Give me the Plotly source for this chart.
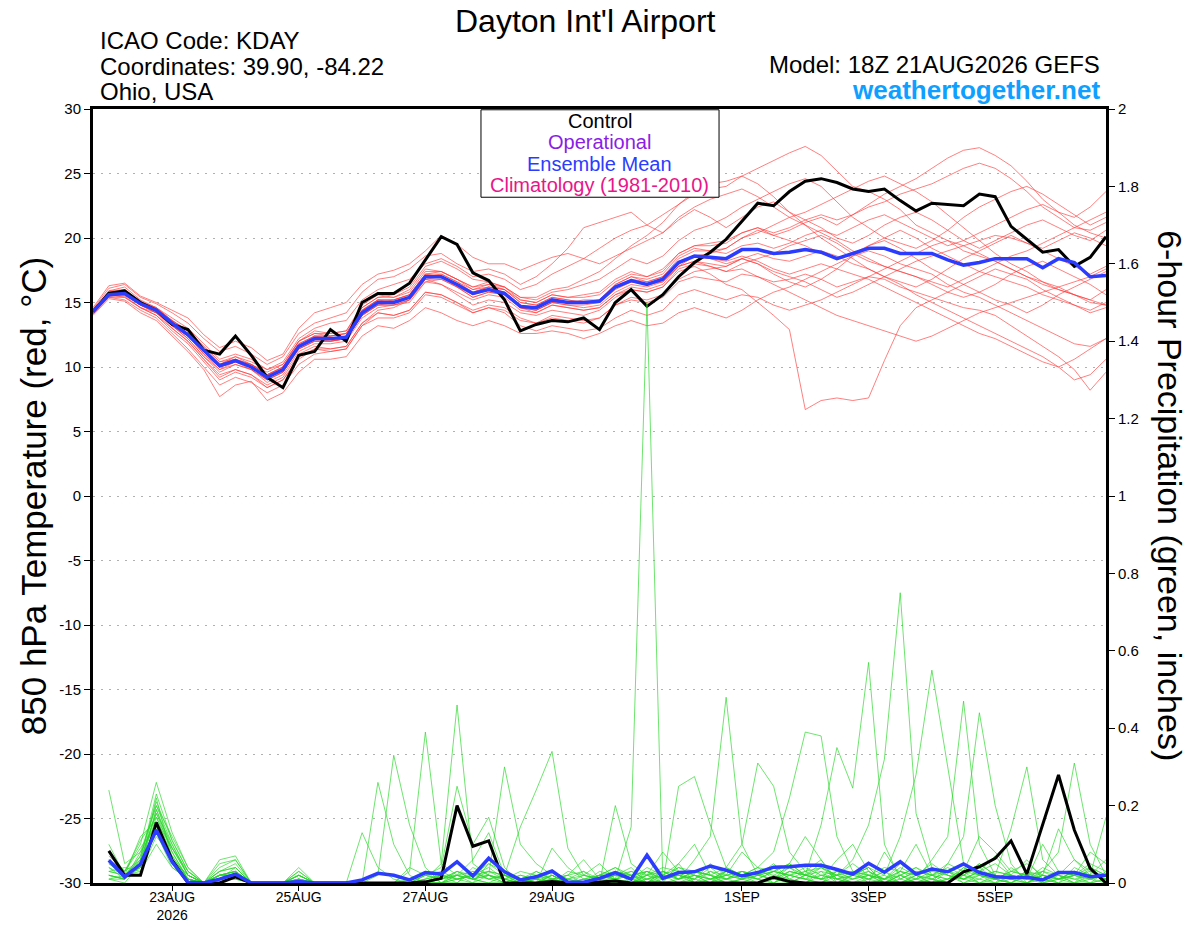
import pandas as pd
import plotly.graph_objects as go

# GEFS 18Z 21AUG2026, 6-hourly steps out to 384h
times = pd.date_range("2026-08-21 18:00", periods=65, freq="6h")

tick_dates = ["2026-08-23", "2026-08-25", "2026-08-27", "2026-08-29",
              "2026-09-01", "2026-09-03", "2026-09-05"]
tick_text = ["23AUG<br>2026", "25AUG", "27AUG", "29AUG", "1SEP", "3SEP", "5SEP"]
# left axis labels use a plain hyphen like the original
temp_ticks = [-30, -25, -20, -15, -10, -5, 0, 5, 10, 15, 20, 25, 30]
temp_tick_text = ["-30", "-25", "-20", "-15", "-10", "-5", "0", "5", "10", "15", "20", "25", "30"]

# 850 hPa temperature (C)
control_t = [14.3, 15.7, 15.9, 15.0, 14.4, 13.3, 12.9, 11.3, 11.0, 12.4, 10.9, 9.2, 8.4,
             10.9, 11.2, 12.9, 12.0, 15.0, 15.7, 15.7, 16.5, 18.3, 20.1, 19.5, 17.3, 16.7,
             15.2, 12.8, 13.3, 13.6, 13.5, 13.8, 12.9, 15.0, 16.0, 14.7, 15.6, 17.0, 18.1,
             18.9, 19.9, 21.3, 22.7, 22.5, 23.6, 24.4, 24.6, 24.3, 23.8, 23.6, 23.8, 22.9,
             22.1, 22.7, 22.6, 22.5, 23.4, 23.2, 20.9, 19.9, 18.9, 19.1, 17.8, 18.5, 20.1]
mean_t = [14.3, 15.6, 15.7, 14.9, 14.4, 13.4, 12.5, 11.3, 10.1, 10.5, 10.0, 9.2, 9.8,
          11.6, 12.2, 12.2, 12.3, 14.2, 15.0, 15.0, 15.4, 17.0, 17.0, 16.4, 15.7, 16.0,
          15.7, 14.7, 14.6, 15.2, 15.0, 15.0, 15.1, 16.2, 16.7, 16.4, 16.8, 18.1, 18.6,
          18.5, 18.4, 19.1, 19.1, 18.8, 18.9, 19.1, 18.9, 18.4, 18.8, 19.2, 19.2, 18.8,
          18.8, 18.8, 18.3, 17.9, 18.1, 18.4, 18.4, 18.4, 17.7, 18.4, 18.1, 17.0, 17.1]

members_t = [
    [14.2, 15.9, 16.2, 15.2, 14.6, 13.8, 13.0, 11.8, 10.6, 11.0, 10.6, 9.8, 10.4, 12.2, 13.0, 13.4, 13.6, 15.2, 16.0, 16.4, 16.8, 18.0, 18.4, 17.8, 17.0, 17.2, 16.8, 16.0, 16.4, 17.2, 17.8, 18.4, 19.2, 20.0, 20.6, 21.0, 21.8, 22.6, 23.4, 23.8, 24.0, 24.8, 25.4, 26.0, 26.6, 27.1, 26.4, 25.2, 24.0, 23.6, 23.0, 22.2, 21.0, 20.4, 19.8, 19.0, 18.6, 18.2, 17.6, 17.0, 16.6, 16.0, 15.6, 15.0, 14.8],
    [14.4, 15.6, 15.4, 14.6, 14.0, 13.0, 12.0, 10.6, 9.2, 9.8, 9.4, 8.6, 9.2, 11.0, 11.6, 11.4, 11.6, 13.4, 14.4, 14.6, 15.2, 16.8, 16.4, 15.6, 14.8, 15.2, 15.0, 14.2, 14.0, 14.4, 14.2, 14.0, 14.4, 15.4, 16.0, 15.8, 16.2, 17.4, 17.8, 17.2, 16.4, 16.0, 15.0, 14.0, 12.9, 6.7, 7.4, 7.6, 7.4, 7.6, 10.5, 13.2, 14.6, 15.2, 15.8, 16.4, 17.0, 17.6, 17.2, 16.8, 16.0, 15.4, 14.8, 14.2, 14.6],
    [14.3, 15.8, 16.0, 15.0, 14.5, 13.6, 12.8, 11.6, 10.4, 10.8, 10.2, 9.4, 10.0, 12.0, 12.8, 12.6, 12.8, 14.8, 15.6, 15.4, 16.0, 17.6, 17.4, 16.8, 16.2, 16.6, 16.2, 15.2, 15.0, 15.6, 15.4, 15.6, 15.8, 16.8, 17.4, 17.0, 17.6, 18.8, 19.4, 19.6, 19.8, 20.4, 20.8, 20.2, 20.6, 21.2, 21.6, 21.0, 21.8, 22.6, 23.4, 24.0, 24.6, 25.4, 26.2, 26.8, 27.0, 26.4, 25.6, 24.4, 23.0, 22.0, 21.0, 20.4, 20.0],
    [14.1, 15.4, 15.2, 14.4, 13.8, 12.6, 11.4, 10.0, 8.6, 9.2, 8.8, 8.0, 8.6, 10.2, 11.0, 11.2, 11.4, 13.2, 14.2, 14.0, 14.4, 15.8, 15.6, 15.0, 14.4, 14.8, 14.6, 13.8, 13.4, 13.8, 13.6, 13.4, 13.8, 14.8, 15.2, 15.0, 15.4, 16.6, 17.0, 16.8, 16.6, 17.2, 17.0, 16.6, 16.8, 17.2, 16.8, 16.2, 16.6, 17.0, 16.8, 16.2, 15.8, 15.4, 15.0, 14.6, 14.4, 14.0, 13.2, 12.4, 11.6, 10.8, 9.8, 8.2, 9.6],
    [14.5, 16.1, 16.4, 15.4, 14.9, 14.2, 13.4, 12.2, 11.2, 11.6, 11.0, 10.2, 10.8, 12.6, 13.4, 13.8, 14.2, 15.8, 16.8, 17.0, 17.6, 18.6, 18.8, 18.0, 17.4, 17.6, 17.2, 16.4, 17.0, 18.0, 19.2, 20.8, 21.2, 21.6, 22.0, 21.0, 20.4, 21.4, 22.2, 21.6, 20.8, 21.6, 22.4, 22.8, 22.0, 21.4, 20.8, 20.0, 19.6, 20.2, 21.0, 21.6, 22.0, 21.4, 20.6, 19.8, 19.2, 19.8, 20.4, 21.0, 21.4, 20.8, 20.2, 19.8, 20.6],
    [14.2, 15.7, 15.8, 14.9, 14.3, 13.2, 12.2, 10.8, 9.6, 10.2, 9.8, 8.8, 9.4, 11.2, 11.8, 11.8, 12.0, 13.8, 14.6, 14.8, 15.0, 16.6, 16.8, 16.2, 15.6, 16.0, 15.8, 14.6, 14.2, 14.8, 14.6, 14.4, 14.6, 15.6, 16.2, 16.0, 16.4, 17.8, 18.6, 18.8, 19.2, 20.0, 20.4, 21.0, 21.6, 22.0, 22.6, 23.2, 23.8, 24.4, 24.8, 24.2, 23.6, 22.8, 21.8, 20.8, 19.8, 18.8, 18.0, 17.4, 16.6, 16.2, 15.6, 15.2, 14.8],
    [14.0, 15.3, 15.1, 14.2, 13.6, 12.4, 11.2, 9.8, 7.7, 8.6, 8.9, 7.4, 8.0, 9.6, 10.6, 10.6, 10.8, 12.4, 13.2, 13.0, 13.6, 14.6, 14.2, 13.6, 13.2, 13.6, 13.2, 12.6, 12.6, 12.8, 12.6, 12.2, 12.6, 13.2, 13.6, 13.2, 13.4, 14.2, 14.6, 14.2, 13.8, 14.4, 15.2, 15.8, 16.2, 16.8, 17.4, 18.0, 18.6, 19.0, 18.6, 18.0, 17.6, 17.2, 16.4, 15.8, 15.4, 14.8, 14.2, 13.6, 13.0, 12.4, 11.8, 11.6, 12.2],
    [14.4, 15.9, 16.0, 15.1, 14.6, 13.6, 12.8, 11.6, 10.4, 10.6, 10.2, 9.6, 10.2, 12.0, 12.6, 12.4, 12.6, 14.6, 15.4, 15.6, 16.2, 17.8, 18.2, 17.6, 16.8, 16.6, 16.2, 15.4, 15.2, 15.8, 16.0, 16.4, 16.8, 17.6, 18.4, 18.0, 18.6, 19.8, 20.6, 21.0, 21.6, 22.4, 23.0, 23.6, 24.2, 24.6, 24.0, 22.8, 21.6, 20.8, 20.0, 19.6, 19.2, 19.8, 20.6, 21.6, 22.4, 23.0, 23.6, 24.0, 23.4, 22.6, 21.8, 21.0, 21.6],
    [14.3, 15.5, 15.6, 14.8, 14.2, 13.2, 12.4, 11.0, 10.0, 10.4, 9.8, 9.0, 9.6, 11.6, 12.2, 12.0, 12.2, 14.0, 14.8, 15.0, 15.4, 16.8, 17.0, 16.4, 15.6, 16.0, 15.6, 14.6, 14.4, 15.0, 15.0, 15.2, 15.2, 16.2, 16.8, 16.6, 17.0, 18.2, 18.6, 18.4, 18.0, 18.4, 18.0, 17.4, 17.0, 16.6, 16.0, 15.4, 15.8, 16.4, 17.0, 17.6, 18.2, 18.6, 19.0, 19.4, 19.8, 20.2, 20.0, 19.6, 19.2, 19.8, 20.4, 20.0, 19.4],
    [14.6, 16.3, 16.5, 15.5, 15.0, 14.4, 13.8, 12.5, 11.5, 12.0, 11.5, 10.5, 11.0, 13.0, 14.2, 14.6, 15.0, 16.4, 17.2, 17.5, 18.0, 19.0, 20.2, 19.5, 18.5, 18.0, 18.0, 17.5, 18.0, 18.5, 18.8, 18.4, 18.0, 18.6, 19.2, 19.8, 20.4, 21.6, 22.4, 23.0, 23.4, 23.8, 23.2, 22.4, 21.6, 21.0, 20.4, 19.8, 19.0, 18.4, 17.8, 17.4, 17.0, 16.6, 16.2, 16.8, 17.4, 18.0, 18.6, 19.0, 19.6, 20.2, 20.8, 21.4, 22.0],
    [14.2, 15.6, 15.9, 15.0, 14.4, 13.4, 12.6, 11.4, 10.2, 10.6, 10.0, 9.2, 9.8, 11.6, 12.4, 12.2, 12.4, 14.4, 15.2, 15.2, 15.6, 17.2, 17.2, 16.6, 16.0, 16.2, 16.0, 15.0, 14.8, 15.4, 15.2, 15.0, 15.2, 16.4, 17.0, 16.6, 17.0, 18.4, 19.0, 19.0, 19.2, 20.0, 20.6, 20.2, 19.8, 19.4, 18.8, 18.4, 18.8, 19.4, 19.8, 19.2, 18.4, 17.6, 17.0, 16.4, 15.8, 15.2, 14.8, 14.2, 14.8, 15.6, 16.2, 16.8, 17.4],
    [14.3, 15.4, 15.4, 14.6, 14.2, 13.0, 12.0, 10.6, 9.4, 9.8, 9.4, 8.4, 9.0, 10.8, 11.4, 11.2, 11.4, 13.2, 13.8, 13.8, 14.2, 15.6, 15.4, 14.8, 14.2, 14.6, 14.4, 13.6, 13.4, 14.0, 13.8, 13.6, 13.8, 14.8, 15.4, 15.2, 15.6, 16.8, 17.4, 17.6, 17.8, 18.4, 18.8, 18.4, 18.2, 18.6, 19.0, 18.6, 18.0, 17.6, 17.0, 16.4, 15.6, 15.0, 14.4, 13.8, 13.2, 12.6, 12.0, 11.4, 10.8, 10.0, 9.0, 9.4, 10.6],
    [14.4, 15.8, 15.8, 14.9, 14.4, 13.4, 12.6, 11.2, 10.0, 10.4, 10.0, 9.4, 10.0, 11.8, 12.4, 12.4, 12.6, 14.4, 15.2, 15.0, 15.4, 17.0, 17.0, 16.4, 15.8, 16.2, 16.0, 15.2, 15.0, 15.6, 15.4, 15.4, 15.6, 16.6, 17.2, 17.0, 17.4, 18.8, 19.4, 19.4, 19.6, 20.4, 20.8, 20.4, 20.8, 21.4, 21.8, 21.4, 21.8, 22.4, 22.8, 23.4, 23.8, 24.2, 24.8, 25.4, 25.8, 25.4, 24.6, 23.6, 22.4, 21.6, 20.8, 20.6, 21.2],
    [14.1, 15.5, 15.5, 14.6, 14.0, 12.8, 11.8, 10.4, 9.0, 9.6, 9.2, 8.4, 9.0, 10.6, 11.4, 11.4, 11.6, 13.4, 14.2, 14.0, 14.4, 15.8, 15.6, 15.0, 14.2, 14.6, 14.2, 13.2, 12.8, 13.2, 13.0, 12.8, 13.0, 13.8, 14.4, 14.0, 14.4, 15.6, 16.0, 15.6, 15.2, 15.6, 15.4, 14.8, 14.4, 14.8, 15.2, 15.8, 16.4, 17.0, 17.6, 18.2, 18.8, 19.4, 19.8, 19.4, 18.8, 18.2, 17.6, 17.0, 16.4, 16.0, 15.6, 15.2, 16.0],
    [14.3, 15.7, 15.9, 15.0, 14.6, 13.6, 12.8, 11.4, 10.2, 10.8, 10.4, 9.8, 10.2, 12.0, 12.6, 12.6, 12.8, 14.6, 15.4, 15.4, 15.8, 17.4, 17.4, 16.8, 16.2, 16.4, 16.2, 15.4, 15.4, 16.0, 16.2, 16.8, 17.4, 18.4, 19.4, 20.2, 21.2, 22.6, 23.6, 24.2, 24.4, 24.8, 24.2, 23.2, 22.0, 21.0, 20.0, 19.2, 18.4, 17.6, 17.0, 16.6, 16.2, 16.8, 17.6, 18.4, 19.0, 19.6, 20.2, 19.6, 19.0, 18.4, 17.8, 17.2, 17.8],
    [14.2, 15.6, 15.6, 14.8, 14.2, 13.2, 12.4, 11.0, 9.8, 10.2, 9.8, 9.0, 9.6, 11.4, 12.0, 12.0, 12.2, 14.0, 14.8, 14.8, 15.2, 16.6, 16.4, 15.8, 15.2, 15.6, 15.4, 14.4, 14.2, 14.8, 14.6, 14.4, 14.6, 15.6, 16.0, 15.8, 16.2, 17.6, 18.0, 17.8, 17.4, 18.0, 18.4, 18.8, 19.4, 19.8, 20.2, 19.6, 18.8, 18.2, 17.8, 17.4, 17.0, 16.4, 15.8, 15.4, 15.8, 16.4, 17.2, 17.8, 18.2, 17.6, 17.0, 16.4, 15.6],
    [14.4, 15.7, 15.6, 14.8, 14.4, 13.4, 12.4, 11.2, 10.0, 10.4, 10.0, 9.2, 9.8, 11.6, 12.2, 12.2, 12.4, 14.2, 15.0, 15.0, 15.4, 17.0, 17.2, 16.6, 15.8, 16.2, 15.8, 14.8, 14.6, 15.2, 15.0, 15.0, 15.2, 16.2, 16.6, 16.4, 16.6, 17.8, 18.2, 17.8, 17.4, 17.6, 17.0, 16.4, 15.8, 15.2, 14.6, 14.0, 13.6, 13.2, 12.8, 12.4, 12.0, 12.4, 13.0, 13.6, 14.2, 14.6, 15.0, 15.4, 15.8, 16.2, 16.6, 17.0, 17.6],
    [14.3, 15.8, 15.9, 15.0, 14.4, 13.4, 12.6, 11.4, 10.2, 10.6, 10.2, 9.4, 10.0, 11.8, 12.4, 12.4, 12.6, 14.4, 15.2, 15.2, 15.6, 17.2, 17.4, 16.8, 16.0, 16.4, 16.0, 15.0, 14.8, 15.4, 15.2, 15.0, 15.2, 16.4, 17.0, 16.8, 17.2, 18.6, 19.2, 19.0, 18.8, 19.4, 19.6, 19.2, 19.6, 20.2, 20.6, 20.2, 20.8, 21.4, 21.8, 21.2, 20.6, 20.0, 19.4, 19.8, 20.4, 21.0, 21.6, 22.2, 22.6, 22.0, 21.6, 22.4, 23.6],
    [14.2, 15.5, 15.7, 14.8, 14.2, 13.2, 12.2, 10.8, 9.8, 10.4, 10.2, 9.4, 9.8, 11.4, 12.0, 12.0, 12.2, 14.0, 15.0, 15.2, 15.6, 17.2, 17.0, 16.2, 15.4, 15.8, 15.6, 14.6, 14.4, 15.0, 14.8, 14.6, 14.8, 15.8, 16.4, 16.2, 16.6, 17.8, 18.2, 18.0, 17.8, 18.4, 18.0, 17.2, 16.6, 16.2, 16.8, 17.6, 18.6, 19.4, 20.0, 20.6, 20.0, 19.2, 18.6, 18.0, 17.4, 17.0, 16.6, 16.2, 15.6, 15.2, 14.8, 14.4, 15.0],
    [14.4, 15.8, 15.8, 15.0, 14.5, 13.4, 12.4, 11.2, 10.0, 10.4, 10.0, 9.0, 9.6, 11.4, 12.0, 12.0, 12.2, 14.0, 14.8, 14.8, 15.2, 16.8, 16.8, 16.2, 15.4, 15.8, 15.6, 14.6, 14.4, 15.0, 14.8, 14.8, 15.0, 16.0, 16.6, 16.4, 16.8, 18.0, 18.6, 18.4, 18.2, 18.6, 18.2, 17.6, 17.2, 17.6, 18.0, 17.6, 17.2, 16.8, 16.2, 15.6, 15.0, 14.4, 13.8, 13.2, 12.6, 12.2, 11.6, 11.0, 10.4, 10.0, 10.6, 11.4, 12.2],
]

# 6-hour precipitation (inches), first value is the 0-6h total
control_p = [0.083, 0.02, 0.02, 0.156, 0.059, 0, 0, 0, 0.016, 0, 0, 0, 0, 0, 0, 0,
             0, 0, 0, 0, 0.003, 0.012, 0.20, 0.095, 0.109, 0, 0, 0, 0.004, 0, 0, 0.002,
             0.005, 0, 0, 0, 0, 0, 0, 0, 0, 0, 0.015, 0.004, 0, 0, 0, 0,
             0, 0, 0, 0, 0, 0, 0.029, 0.042, 0.064, 0.109, 0.023, 0.15, 0.279, 0.137, 0.038, 0]
mean_p = [0.059, 0.016, 0.049, 0.137, 0.055, 0.002, 0, 0.01, 0.023, 0, 0, 0, 0.004, 0, 0, 0,
          0.008, 0.025, 0.02, 0.008, 0.027, 0.023, 0.055, 0.018, 0.064, 0.029, 0.008, 0.016, 0.031, 0.002, 0.002, 0.012,
          0.027, 0.01, 0.072, 0.012, 0.027, 0.029, 0.044, 0.033, 0.018, 0.027, 0.041, 0.042, 0.046, 0.046, 0.035, 0.023,
          0.051, 0.028, 0.055, 0.023, 0.036, 0.029, 0.049, 0.027, 0.016, 0.014, 0.015, 0.008, 0.027, 0.027, 0.016, 0.02]

members_p = [
    [0.24, 0.05, 0.08, 0.20, 0.10, 0.02, 0, 0.03, 0.05, 0, 0, 0, 0.01, 0, 0, 0, 0.13, 0.04, 0.01, 0, 0, 0, 0.02, 0.01, 0, 0, 0, 0, 0.01, 0.02, 0.06, 0.01, 0, 0, 0.03, 0, 0, 0.02, 0.01, 0, 0, 0, 0.01, 0.05, 0.12, 0.06, 0, 0.02, 0.04, 0, 0, 0.01, 0.06, 0.12, 0.47, 0.10, 0.02, 0, 0.03, 0.01, 0, 0.04, 0.02, 0.01],
    [0.06, 0.03, 0.10, 0.26, 0.13, 0.04, 0, 0.06, 0.07, 0, 0, 0, 0.03, 0, 0, 0, 0, 0.26, 0.10, 0.02, 0, 0, 0, 0.04, 0.02, 0, 0, 0, 0.02, 0, 0, 0, 0.01, 0, 0.02, 0.08, 0.03, 0, 0, 0.04, 0.02, 0, 0, 0.03, 0.02, 0.01, 0.06, 0.1, 0.03, 0, 0.02, 0, 0, 0.05, 0.12, 0.44, 0.2, 0.05, 0, 0.02, 0, 0, 0.01, 0],
    [0.02, 0.01, 0.06, 0.18, 0.08, 0.01, 0, 0.01, 0.04, 0, 0, 0, 0, 0, 0, 0, 0, 0.02, 0.33, 0.15, 0.04, 0, 0, 0, 0.05, 0.02, 0, 0, 0, 0.01, 0.03, 0, 0, 0, 0.01, 0, 0.05, 0.10, 0.02, 0, 0.01, 0.03, 0, 0, 0.02, 0.05, 0.01, 0, 0, 0.08, 0.02, 0, 0.01, 0, 0.02, 0.05, 0.02, 0.14, 0.30, 0.06, 0.02, 0, 0, 0.03],
    [0.10, 0.02, 0.04, 0.22, 0.06, 0.02, 0, 0.02, 0.03, 0, 0, 0, 0.02, 0, 0, 0, 0, 0, 0, 0.03, 0.39, 0.05, 0.02, 0, 0, 0, 0, 0.03, 0.01, 0, 0, 0.02, 0.04, 0.01, 0, 0.02, 0.05, 0, 0.01, 0.02, 0.08, 0.04, 0.01, 0, 0.02, 0.03, 0, 0.01, 0.02, 0, 0.03, 0.1, 0.02, 0, 0.04, 0.02, 0.01, 0, 0, 0.03, 0.08, 0.31, 0.1, 0.02],
    [0.01, 0, 0.05, 0.14, 0.05, 0, 0, 0.04, 0.06, 0, 0, 0, 0.04, 0, 0, 0, 0, 0, 0, 0, 0.01, 0.05, 0.46, 0.05, 0.02, 0, 0, 0.01, 0, 0, 0, 0, 0, 0.01, 0.03, 0.02, 0, 0.01, 0.04, 0.01, 0, 0.02, 0.05, 0.01, 0, 0.02, 0.01, 0.03, 0, 0.01, 0.05, 0.02, 0, 0.01, 0.03, 0, 0, 0.04, 0.01, 0, 0.02, 0.06, 0.02, 0.17],
    [0.04, 0.02, 0.12, 0.16, 0.09, 0.03, 0, 0.02, 0.02, 0, 0, 0, 0, 0, 0, 0, 0, 0, 0, 0.04, 0.02, 0.04, 0.25, 0.10, 0.17, 0.04, 0, 0, 0.02, 0, 0, 0.01, 0.02, 0.01, 0, 0.03, 0.01, 0.02, 0, 0.03, 0.01, 0, 0.02, 0.04, 0.01, 0, 0.03, 0.02, 0.01, 0.03, 0, 0.02, 0.05, 0.02, 0, 0.01, 0.03, 0.02, 0.06, 0.01, 0.02, 0, 0.04, 0.02],
    [0.03, 0.04, 0.03, 0.12, 0.07, 0.01, 0, 0.01, 0.02, 0, 0, 0, 0.01, 0, 0, 0, 0, 0, 0, 0, 0, 0.03, 0.05, 0.02, 0.02, 0.30, 0.10, 0.05, 0.02, 0, 0, 0.02, 0.04, 0.02, 0, 0.01, 0.02, 0, 0.03, 0.01, 0.02, 0.01, 0, 0.02, 0.03, 0.06, 0.01, 0.02, 0.04, 0, 0.01, 0.03, 0.02, 0.04, 0.02, 0.01, 0, 0.02, 0.01, 0.04, 0.02, 0.01, 0, 0.01],
    [0.02, 0.01, 0.07, 0.21, 0.11, 0.03, 0, 0.02, 0.03, 0, 0, 0, 0, 0, 0, 0, 0, 0, 0, 0, 0, 0, 0.03, 0.01, 0.03, 0.02, 0.145, 0.24, 0.34, 0.09, 0.02, 0.01, 0.03, 0, 0.01, 0.02, 0.04, 0.02, 0, 0.01, 0.03, 0.02, 0.04, 0.01, 0, 0.03, 0.02, 0.05, 0.02, 0, 0.02, 0.04, 0.01, 0, 0.03, 0.02, 0.01, 0, 0.02, 0.03, 0.01, 0.02, 0.05, 0.03],
    [0.05, 0.02, 0.05, 0.17, 0.07, 0.01, 0, 0.03, 0.04, 0, 0, 0, 0.02, 0, 0, 0, 0, 0, 0, 0.01, 0.03, 0, 0.02, 0.06, 0.13, 0.02, 0, 0, 0.09, 0.04, 0.01, 0, 0.20, 0.05, 0.02, 0, 0.01, 0.03, 0.02, 0, 0.01, 0.02, 0.03, 0.02, 0.01, 0.04, 0.02, 0, 0.01, 0.02, 0, 0.01, 0.03, 0.02, 0.01, 0.03, 0.05, 0.02, 0, 0.01, 0.03, 0.02, 0.01, 0.02],
    [0.01, 0.01, 0.04, 0.19, 0.09, 0.02, 0, 0.01, 0.02, 0, 0, 0, 0.01, 0, 0, 0, 0, 0, 0, 0, 0.01, 0.02, 0, 0.03, 0.01, 0, 0.02, 0.01, 0, 0, 0.02, 0.05, 0.01, 0.145, 1.5, 0.01, 0.02, 0.01, 0, 0.02, 0.03, 0.01, 0, 0.02, 0.01, 0, 0.02, 0.03, 0.01, 0, 0.02, 0.01, 0, 0.03, 0.01, 0, 0.02, 0.01, 0, 0.02, 0.01, 0.03, 0.02, 0.01],
    [0.08, 0.03, 0.09, 0.15, 0.06, 0.01, 0, 0.02, 0.03, 0, 0, 0, 0, 0, 0, 0, 0, 0, 0, 0, 0, 0.02, 0.01, 0, 0.02, 0.01, 0, 0, 0.03, 0.01, 0, 0.02, 0.03, 0.02, 0, 0, 0.25, 0.275, 0.15, 0.04, 0.02, 0.01, 0.03, 0.05, 0.02, 0.01, 0, 0.02, 0.01, 0.03, 0.01, 0, 0.02, 0.01, 0.02, 0.05, 0.02, 0.01, 0.03, 0, 0.01, 0.02, 0.01, 0.02],
    [0.03, 0.02, 0.07, 0.20, 0.12, 0.04, 0, 0.05, 0.06, 0, 0, 0, 0.02, 0, 0, 0, 0, 0, 0, 0, 0.02, 0.01, 0.03, 0.02, 0.05, 0.03, 0.01, 0, 0.02, 0, 0.01, 0, 0.02, 0.04, 0, 0.03, 0.01, 0.06, 0.12, 0.48, 0.10, 0.02, 0.01, 0.03, 0.02, 0.04, 0.01, 0, 0.02, 0.01, 0.03, 0.02, 0, 0.01, 0.02, 0.04, 0.01, 0, 0.02, 0.01, 0.03, 0.02, 0, 0.01],
    [0.02, 0.01, 0.05, 0.13, 0.04, 0.01, 0, 0.01, 0.01, 0, 0, 0, 0, 0, 0, 0, 0, 0, 0, 0, 0, 0.01, 0.02, 0.01, 0, 0.02, 0.01, 0, 0.01, 0.02, 0, 0.01, 0.01, 0.02, 0.03, 0.01, 0.04, 0.03, 0.02, 0.04, 0.10, 0.31, 0.25, 0.08, 0.03, 0.01, 0.02, 0.01, 0.03, 0.01, 0, 0.02, 0.01, 0.03, 0.02, 0, 0.01, 0.02, 0.01, 0.03, 0.02, 0.01, 0.02, 0.06],
    [0.05, 0.02, 0.06, 0.18, 0.10, 0.02, 0, 0.02, 0.03, 0, 0, 0, 0.01, 0, 0, 0, 0, 0, 0, 0, 0, 0, 0.01, 0.02, 0.04, 0.01, 0, 0.02, 0.01, 0, 0, 0.03, 0.02, 0.01, 0.04, 0.02, 0.01, 0.03, 0.02, 0.01, 0.02, 0.04, 0.08, 0.22, 0.39, 0.38, 0.12, 0.03, 0.02, 0.01, 0.04, 0.02, 0.01, 0.03, 0, 0.02, 0.01, 0.03, 0.02, 0.01, 0, 0.02, 0.03, 0.01],
    [0.04, 0.01, 0.08, 0.15, 0.06, 0.02, 0, 0.02, 0.02, 0, 0, 0, 0.02, 0, 0, 0, 0, 0, 0, 0, 0.02, 0.03, 0.01, 0.02, 0.03, 0.01, 0, 0.01, 0.02, 0, 0.01, 0.02, 0.01, 0, 0.02, 0.03, 0.01, 0.02, 0.01, 0.03, 0.02, 0.01, 0.03, 0.05, 0.02, 0.15, 0.35, 0.245, 0.57, 0.10, 0.01, 0.03, 0.02, 0.01, 0.04, 0.02, 0, 0.01, 0.03, 0.02, 0.01, 0, 0.02, 0.01],
    [0.02, 0.01, 0.05, 0.19, 0.08, 0.01, 0, 0.03, 0.04, 0, 0, 0, 0.01, 0, 0, 0, 0, 0, 0, 0, 0.01, 0.02, 0.02, 0.01, 0.02, 0.01, 0.03, 0.02, 0, 0.01, 0.02, 0.01, 0.03, 0.02, 0.01, 0.03, 0.02, 0.01, 0.05, 0.02, 0.01, 0.03, 0.02, 0.01, 0.03, 0.04, 0.02, 0.06, 0.15, 0.32, 0.75, 0.18, 0.04, 0.02, 0.01, 0.03, 0.02, 0.01, 0, 0.02, 0.01, 0.03, 0.02, 0.01],
    [0.06, 0.03, 0.11, 0.17, 0.09, 0.02, 0, 0.02, 0.02, 0, 0, 0, 0.03, 0, 0, 0, 0, 0, 0, 0, 0, 0.01, 0.02, 0.03, 0.01, 0.02, 0, 0.01, 0.03, 0.01, 0, 0.02, 0.01, 0.03, 0.02, 0.01, 0.02, 0.03, 0.01, 0.02, 0.03, 0.02, 0.01, 0.04, 0.02, 0.01, 0.03, 0.02, 0.04, 0.02, 0.12, 0.28, 0.55, 0.30, 0.05, 0.02, 0.01, 0.03, 0.02, 0, 0.01, 0.02, 0.04, 0.02],
    [0.03, 0.02, 0.04, 0.14, 0.05, 0.01, 0, 0.01, 0.02, 0, 0, 0, 0, 0, 0, 0, 0, 0, 0, 0, 0, 0.02, 0.01, 0.02, 0.03, 0.02, 0.01, 0, 0.01, 0.02, 0.03, 0.01, 0.02, 0.01, 0.02, 0.04, 0.03, 0.02, 0.01, 0.03, 0.02, 0.04, 0.03, 0.02, 0.01, 0.02, 0.03, 0.01, 0.02, 0.04, 0.03, 0.01, 0.02, 0.05, 0.03, 0.12, 0.08, 0.03, 0.05, 0.02, 0.14, 0.06, 0.03, 0.02],
    [0.07, 0.03, 0.06, 0.23, 0.11, 0.03, 0, 0.02, 0.03, 0, 0, 0, 0.02, 0, 0, 0, 0, 0, 0, 0, 0.02, 0.01, 0.03, 0.01, 0.02, 0.01, 0.02, 0.01, 0, 0.03, 0.02, 0.01, 0.02, 0.03, 0.01, 0.02, 0.01, 0.03, 0.02, 0.01, 0.03, 0.02, 0.01, 0.03, 0.02, 0.01, 0.02, 0.03, 0.02, 0.01, 0.03, 0.02, 0.04, 0.02, 0.01, 0.03, 0.07, 0.02, 0.01, 0.10, 0.03, 0.02, 0.08, 0.05],
    [0.01, 0.02, 0.03, 0.10, 0.04, 0.01, 0, 0.01, 0.01, 0, 0, 0, 0.01, 0, 0, 0, 0, 0, 0, 0, 0, 0, 0.01, 0.02, 0.01, 0.02, 0.01, 0.03, 0.01, 0, 0.01, 0.02, 0.01, 0.02, 0.03, 0.01, 0.02, 0.01, 0.03, 0.02, 0.01, 0.02, 0.03, 0.02, 0.04, 0.02, 0.01, 0.02, 0.03, 0.01, 0.02, 0.04, 0.02, 0.03, 0.01, 0.02, 0.03, 0.02, 0.01, 0.02, 0.01, 0.03, 0.02, 0.01],
]

FONT = "Liberation Sans, Arial, sans-serif"

fig = go.Figure()

# ensemble members first so the control / mean sit on top
for m in members_t:
    fig.add_trace(go.Scatter(x=times, y=m, mode="lines",
                             line=dict(color="rgba(255,55,55,0.8)", width=0.8),
                             hoverinfo="skip", showlegend=False))
for m in members_p:
    fig.add_trace(go.Scatter(x=times[1:], y=m, mode="lines", yaxis="y2",
                             line=dict(color="rgba(40,215,40,0.85)", width=0.8),
                             hoverinfo="skip", showlegend=False))

fig.add_trace(go.Scatter(x=times, y=control_t, mode="lines", name="Control",
                         line=dict(color="black", width=3), showlegend=False))
fig.add_trace(go.Scatter(x=times, y=mean_t, mode="lines", name="Ensemble Mean",
                         line=dict(color="#2b3cff", width=3.5), showlegend=False))
fig.add_trace(go.Scatter(x=times[1:], y=control_p, mode="lines", yaxis="y2",
                         line=dict(color="black", width=3), showlegend=False))
fig.add_trace(go.Scatter(x=times[1:], y=mean_p, mode="lines", yaxis="y2",
                         line=dict(color="#2b3cff", width=3.5), showlegend=False))

fig.update_layout(
    width=1200, height=927,
    margin=dict(l=93, r=94, t=109, b=44),
    paper_bgcolor="white", plot_bgcolor="white",
    font=dict(family=FONT, color="black", size=15),
    xaxis=dict(type="date", range=[times[0], times[-1]], automargin=False,
               tickvals=tick_dates, ticktext=tick_text,
               ticks="outside", ticklen=5, tickwidth=1, tickcolor="black",
               ticklabelstandoff=-6,
               showgrid=False, zeroline=False,
               showline=True, linecolor="black", linewidth=3, mirror=True,
               tickfont=dict(size=14)),
    yaxis=dict(range=[-30, 30], tickvals=temp_ticks, ticktext=temp_tick_text,
               automargin=False,
               ticks="outside", ticklen=6, tickcolor="black",
               showgrid=True, gridcolor="#b0b0b0", griddash="2px,6px", gridwidth=1.2,
               zeroline=False, showline=True, linecolor="black", linewidth=3,
               tickfont=dict(size=15)),
    yaxis2=dict(range=[0, 2], dtick=0.2, tick0=0, overlaying="y", side="right",
                automargin=False,
                ticks="outside", ticklen=6, tickcolor="black",
                showgrid=False, zeroline=False,
                showline=True, linecolor="black", linewidth=3,
                tickfont=dict(size=15)),
)

# legend box
fig.add_shape(type="rect", xref="paper", yref="paper",
              x0=0.383, x1=0.618, y0=0.886, y1=0.999,
              line=dict(color="black", width=1), fillcolor="white", layer="above")
legend_rows = [("Control", "black"), ("Operational", "#8a1ee6"),
               ("Ensemble Mean", "#2b3cff"), ("Climatology (1981-2010)", "#e8168a")]
for k, (txt, col) in enumerate(legend_rows):
    fig.add_annotation(text=txt, xref="paper", yref="paper", x=0.5, y=0.985 - k * 0.0278,
                       xanchor="center", yanchor="middle", showarrow=False,
                       font=dict(size=20, color=col, family=FONT))

# header texts
fig.add_annotation(text="Dayton Int'l Airport", xref="paper", yref="paper",
                   x=0.486, y=1.114, xanchor="center", yanchor="middle", showarrow=False,
                   font=dict(size=32, family=FONT))
for k, txt in enumerate(["ICAO Code: KDAY", "Coordinates: 39.90, -84.22", "Ohio, USA"]):
    fig.add_annotation(text=txt, xref="paper", yref="paper", x=0.005, y=1.089 - k * 0.0335,
                       xanchor="left", yanchor="middle", showarrow=False,
                       font=dict(size=24, family=FONT))
fig.add_annotation(text="Model: 18Z 21AUG2026 GEFS", xref="paper", yref="paper",
                   x=0.996, y=1.058, xanchor="right", yanchor="middle", showarrow=False,
                   font=dict(size=24, family=FONT))
fig.add_annotation(text="<b>weathertogether.net</b>", xref="paper", yref="paper",
                   x=0.996, y=1.025, xanchor="right", yanchor="middle", showarrow=False,
                   font=dict(size=26, color="#0fa0ff", family=FONT))

# axis titles as rotated annotations (right one reads top-down)
fig.add_annotation(text="850 hPa Temperature (red, °C)", xref="paper", yref="paper",
                   x=-0.059, y=0.5, textangle=-90, xanchor="center", yanchor="middle",
                   showarrow=False, font=dict(size=35, family=FONT))
fig.add_annotation(text="6-hour Precipitation (green, inches)", xref="paper", yref="paper",
                   x=1.063, y=0.5, textangle=90, xanchor="center", yanchor="middle",
                   showarrow=False, font=dict(size=34, family=FONT))

# drop the default page margin so the figure fills the window exactly
fig.write_html("out.html", config={"displayModeBar": False},
               post_script="document.body.style.margin = '0';")
